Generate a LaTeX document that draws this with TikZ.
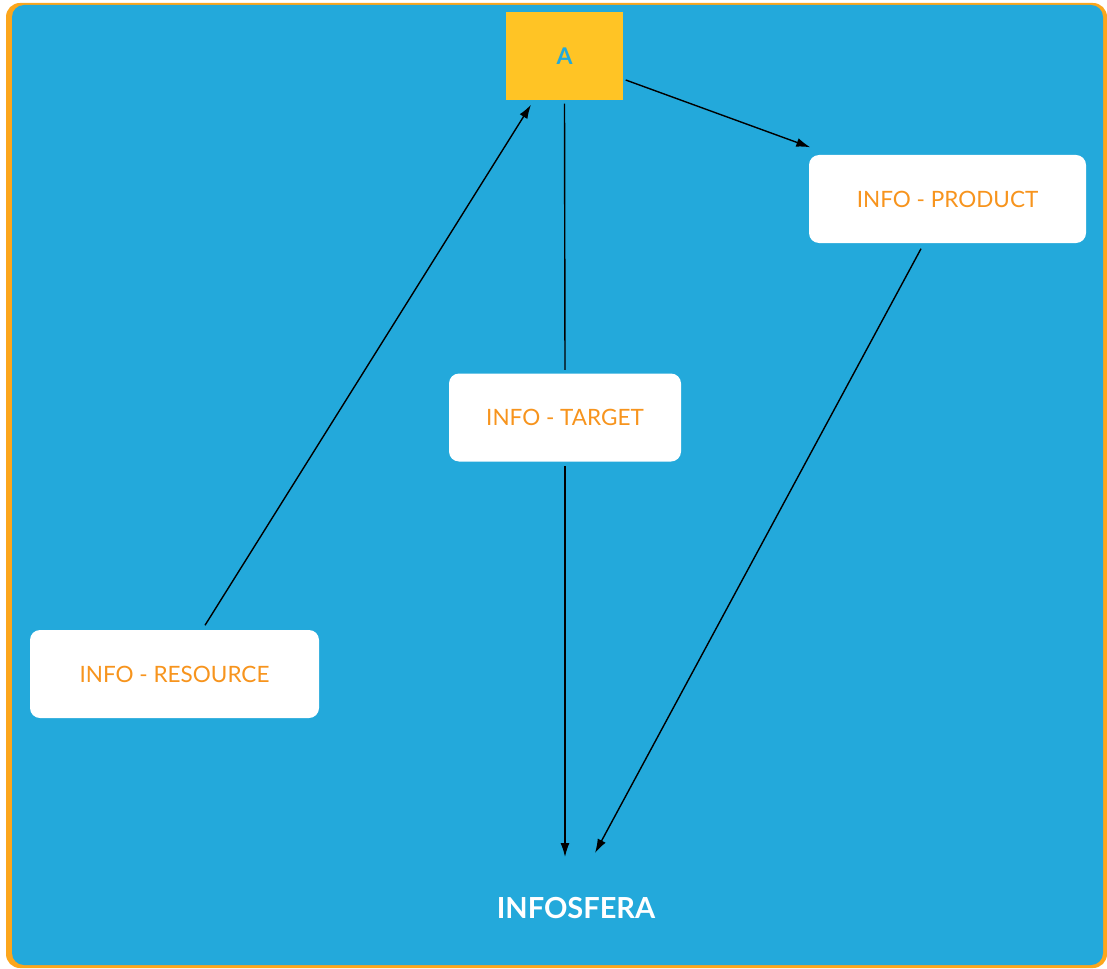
\documentclass[tikz,border=0pt]{standalone}
\usepackage{fontspec}
\setmainfont{Lato}
\usepackage{tikz}
\usetikzlibrary{arrows.meta}
\definecolor{skyblue}{RGB}{35,169,219}
\definecolor{rimorange}{RGB}{252,166,28}
\definecolor{boxyellow}{RGB}{255,196,37}
\definecolor{infoorange}{RGB}{247,148,29}

\begin{document}
\begin{tikzpicture}[x=1pt,y=-1pt,>={Latex[length=14pt,width=9pt]},line width=1.4pt,
  info/.style={fill=white,rounded corners=10pt,minimum height=88pt,text=infoorange,
    font=\fontsize{22.5}{26}\selectfont}]
  \useasboundingbox (0,0) rectangle (1107,968);
  \fill[rimorange,rounded corners=14pt] (6,3) rectangle (1107,968);
  \fill[skyblue,rounded corners=12pt] (12,5) rectangle (1103,965);

  \node[fill=boxyellow,minimum width=117pt,minimum height=88pt,text=skyblue,
    font=\fontsize{23}{26}\selectfont\bfseries] (A) at (564.5,56) {A};
  \node[info,minimum width=277pt] (prod)   at (947.5,199) {INFO - PRODUCT};
  \node[info,minimum width=232pt] (target) at (565,417.5) {INFO - TARGET};
  \node[info,minimum width=289pt] (res)    at (174.5,674) {INFO - RESOURCE};
  \node[anchor=north,inner ysep=40pt,text=white,
    font=\fontsize{29}{32}\selectfont\bfseries] (sfera) at (576,857) {INFOSFERA};

  \draw[->] ([shift={(2,24)}]A.east) -- ([shift={(2,-7)}]prod.north west);
  \draw[shorten <=3pt,shorten >=3pt] (A.south) -- (target.north);
  \draw[->] ([shift={(0,4)}]target.south) -- ([xshift=-11pt]sfera.north);
  \draw[->] ([shift={(-26.5,5)}]prod.south) -- ([shift={(19,-4)}]sfera.north);
  \draw[->] ([shift={(30.5,-4)}]res.north) -- ([shift={(-33.5,4)}]A.south);
\end{tikzpicture}
\end{document}
